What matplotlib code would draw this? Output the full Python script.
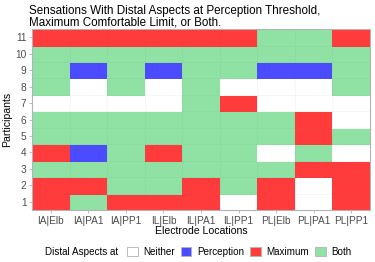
import numpy as np
import matplotlib
matplotlib.use("Agg")
import matplotlib.pyplot as plt
from matplotlib.colors import ListedColormap
from matplotlib.patches import Patch

plt.rcParams['font.family'] = ['Liberation Sans', 'DejaVu Sans']

# electrode locations (x) and participants (y)
locations = ['IA|Elb', 'IA|PA1', 'IA|PP1', 'IL|Elb', 'IL|PA1', 'IL|PP1',
             'PL|Elb', 'PL|PA1', 'PL|PP1']
participants = list(range(1, 12))

categories = ['Neither', 'Perception', 'Maximum', 'Both']
cat_colors = ['#FFFFFF', '#4B4BFF', '#FF3B3B', '#8FE2A4']

# one list per participant, values ordered as in `locations`
# N = neither, P = perception, M = maximum, B = both
p1 = ['M', 'B', 'M', 'M', 'M', 'N', 'M', 'N', 'M']
p2 = ['M', 'M', 'B', 'B', 'M', 'B', 'M', 'N', 'M']
p3 = ['B', 'B', 'B', 'B', 'B', 'B', 'B', 'M', 'M']
p4 = ['M', 'P', 'B', 'M', 'B', 'B', 'N', 'B', 'N']
p5 = ['B', 'B', 'B', 'B', 'B', 'B', 'B', 'M', 'B']
p6 = ['B', 'B', 'B', 'B', 'B', 'B', 'B', 'M', 'N']
p7 = ['N', 'N', 'N', 'N', 'B', 'M', 'N', 'N', 'N']
p8 = ['B', 'N', 'B', 'N', 'B', 'N', 'N', 'N', 'B']
p9 = ['B', 'P', 'B', 'P', 'B', 'B', 'P', 'P', 'B']
p10 = ['B', 'B', 'B', 'B', 'B', 'B', 'B', 'B', 'B']
p11 = ['M', 'M', 'M', 'M', 'M', 'M', 'B', 'B', 'M']

rows = [p1, p2, p3, p4, p5, p6, p7, p8, p9, p10, p11]
code_idx = {'N': 0, 'P': 1, 'M': 2, 'B': 3}
Z = np.array([[code_idx[c] for c in r] for r in rows])

fig = plt.figure(figsize=(3.75, 2.62), dpi=100)
ax = fig.add_axes([0.0853, 0.1985, 0.9014, 0.6905])

cmap = ListedColormap(cat_colors)
xe = np.arange(len(locations) + 1) + 0.5
ye = np.arange(len(participants) + 1) + 0.5
ax.pcolormesh(xe, ye, Z, cmap=cmap, vmin=-0.5, vmax=3.5,
              edgecolors=(0.4, 0.4, 0.4, 0.06), linewidth=0.6)

ax.set_xlim(0.5, len(locations) + 0.5)
ax.set_ylim(0.5, len(participants) + 0.5)
ax.set_xticks(range(1, len(locations) + 1))
ax.set_xticklabels(locations)
ax.set_yticks(participants)
ax.set_yticklabels([str(p) for p in participants])
ax.tick_params(axis='both', labelsize=7.3, colors='#B3B3B3', length=2.5,
               width=0.6, pad=1.5, labelcolor='#4D4D4D')
for s in ax.spines.values():
    s.set_color('#B3B3B3')
    s.set_linewidth(0.8)

ax.set_xlabel('Electrode Locations', fontsize=7.6, labelpad=0.5, color='black')
ax.set_ylabel('Participants', fontsize=7.6, labelpad=2, color='black')

fig.text(0.077, 0.982, 'Sensations With Distal Aspects at Perception Threshold,\n'
         'Maximum Comfortable Limit, or Both.',
         fontsize=8.4, ha='left', va='top', linespacing=1.0)

handles = [Patch(facecolor=c, edgecolor='#B3B3B3', linewidth=0.6) for c in cat_colors]
fig.text(0.12, 0.038, 'Distal Aspects at', fontsize=7.1, ha='left', va='center')
fig.legend(handles, categories, loc='center left', bbox_to_anchor=(0.338, 0.038),
           ncol=4, frameon=False, fontsize=7.1, handlelength=1.1, handleheight=1.1,
           handletextpad=0.55, columnspacing=0.6, borderaxespad=0, borderpad=0)

fig.savefig('out.png', dpi=100)
